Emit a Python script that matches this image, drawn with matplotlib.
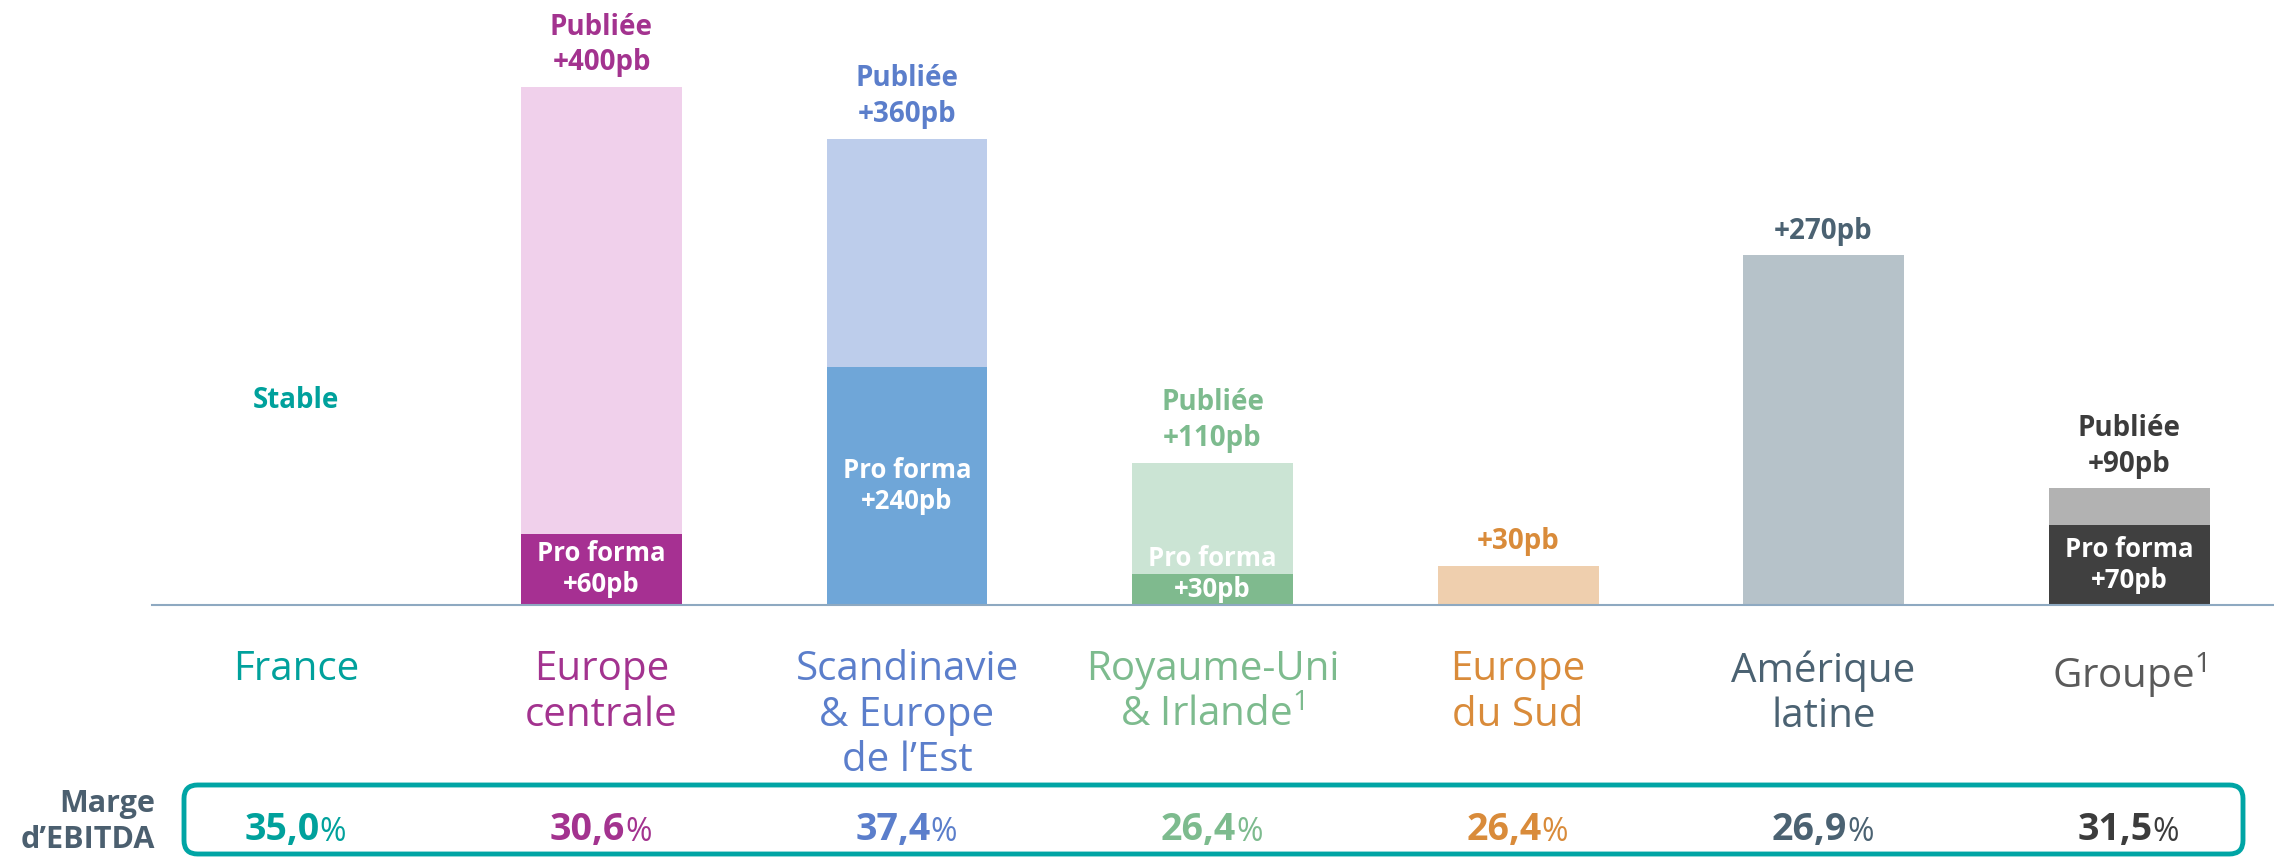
import numpy as np
import matplotlib.pyplot as plt
from matplotlib.patches import FancyBboxPatch

plt.rcParams['font.family'] = ['Open Sans', 'DejaVu Sans']
plt.rcParams['mathtext.fontset'] = 'custom'
plt.rcParams['mathtext.rm'] = 'Open Sans'

# --- data -------------------------------------------------------------
categories = ["France", "Europe\ncentrale", "Scandinavie\n& Europe\nde l’Est",
              "Royaume-Uni\n& Irlande$^\\mathrm{1}$", "Europe\ndu Sud", "Amérique\nlatine",
              "Groupe$^\\mathrm{1}$"]
published = [0, 400, 360, 110, 30, 270, 90]          # pb, bar height (publiée)
proforma = [0, 55, 184, 24, 0, 0, 62]                # pb, drawn height of pro forma block
top_labels = ["Stable", "Publiée\n+400pb", "Publiée\n+360pb", "Publiée\n+110pb",
              "+30pb", "+270pb", "Publiée\n+90pb"]
inner_labels = ["", "Pro forma\n+60pb", "Pro forma\n+240pb", "Pro forma\n+30pb",
                "", "", "Pro forma\n+70pb"]
marge = [35.0, 30.6, 37.4, 26.4, 26.4, 26.9, 31.5]

# --- colours ----------------------------------------------------------
text_colors = ['#00A19C', '#A3338F', '#5B7ECB', '#7DBB8E', '#D98B3A', '#4B6272', '#3C3C3C']
cat_colors = ['#00A19C', '#A3338F', '#5B7ECB', '#7DBB8E', '#D98B3A', '#4B6272', '#5A5A5A']
pub_colors = ['#FFFFFF', '#F0D0EB', '#BDCDEB', '#CBE4D4', '#EFCFAE', '#B6C2C9', '#B2B2B2']
pf_colors = ['#FFFFFF', '#A63092', '#6FA6D8', '#7FBA8E', '#FFFFFF', '#FFFFFF', '#404040']
teal = '#00A5A5'

# --- layout (pixels of the 2274x857 canvas) ---------------------------
W, H, DPI = 2274, 857, 100
x0_px, step_px = 296, 305.5
base_px, px_per_pb = 605, 1.295

fig = plt.figure(figsize=(W / DPI, H / DPI), dpi=DPI)
ax = fig.add_axes([0, 0, 1, 1])
ax.axis('off')
ax.set_xlim(-x0_px / step_px, (W - x0_px) / step_px)
ax.set_ylim(-(H - base_px) / px_per_pb, base_px / px_per_pb)

x = np.arange(len(categories))
width = 161 / step_px

ax.bar(x, published, width, color=pub_colors, zorder=2)
ax.bar(x, proforma, width, color=pf_colors, zorder=3)
ax.axhline(0, xmin=152 / W, xmax=1, color='#8EA9C1', lw=1.5, zorder=4)

# labels above the bars
for i in x:
    if published[i] == 0:
        ax.text(i, 1 - 400 / H, top_labels[i], transform=ax.get_xaxis_transform(),
                ha='center', va='center', fontsize=20, fontweight='bold', color=text_colors[i])
        continue
    ax.annotate(top_labels[i], (i, published[i]), xytext=(0, 7), textcoords='offset points',
                ha='center', va='bottom', fontsize=20, fontweight='bold',
                color=text_colors[i], linespacing=1.3)

# pro forma labels inside the bars
for i in x:
    if not inner_labels[i]:
        continue
    h = proforma[i]
    y = h / 2 if h * px_per_pb > 60 else h
    ax.text(i, y, inner_labels[i], ha='center', va='center', fontsize=18.5,
            fontweight='bold', color='white', linespacing=1.2, zorder=5)

# category labels
for i in x:
    ax.text(i, 1 - 650 / H, categories[i], transform=ax.get_xaxis_transform(),
            ha='center', va='top', fontsize=29, color=cat_colors[i], linespacing=1.15)

# EBITDA margin row
box = FancyBboxPatch((184 / W, 3 / H), (2243 - 184) / W, (H - 785 - 3) / H,
                     boxstyle='round,pad=0,rounding_size=0.006', mutation_aspect=W / H,
                     transform=ax.transAxes, fill=False, ec=teal, lw=3.5, clip_on=False)
ax.add_patch(box)
ax.text(155 / W, 1 - 822 / H, "Marge\nd’EBITDA", transform=ax.transAxes, ha='right',
        va='center', fontsize=22, fontweight='bold', color='#4B5F6F', linespacing=1.25)

for i in x:
    num = ax.annotate(f"{marge[i]:.1f}".replace('.', ','), (i, 1 - 830 / H),
                      xycoords=ax.get_xaxis_transform(), xytext=(-10, 0),
                      textcoords='offset points', ha='center', va='center',
                      fontsize=27, fontweight='bold', color=text_colors[i])
    ax.annotate('%', (1, 0), xycoords=num, ha='left', va='bottom',
                fontsize=23, color=text_colors[i])

fig.savefig('out.png', dpi=DPI)
